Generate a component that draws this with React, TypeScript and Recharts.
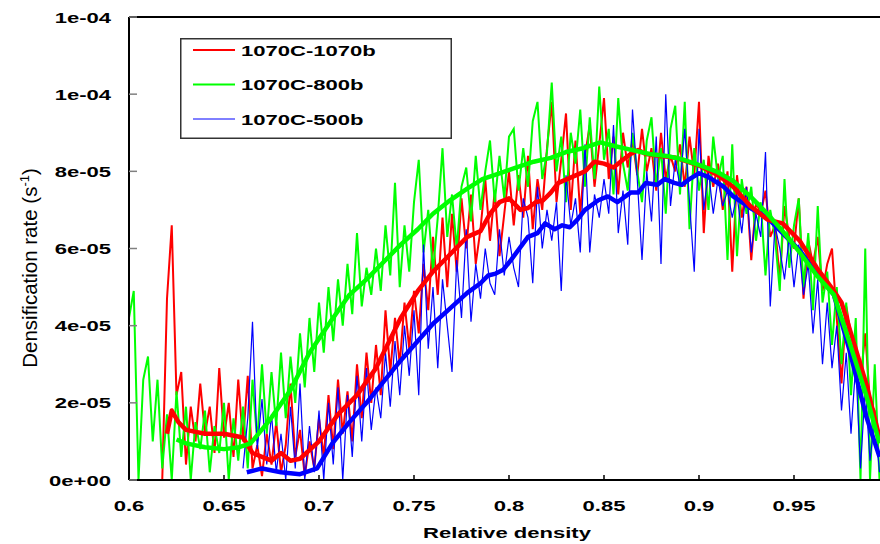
import { LineChart, Line, XAxis, YAxis, ReferenceLine, Legend } from 'recharts';

// x axis: relative density
const X_TICKS = [0.6, 0.65, 0.7, 0.75, 0.8, 0.85, 0.9, 0.95];
const X_TICK_LABELS = ['0.6', '0.65', '0.7', '0.75', '0.8', '0.85', '0.9', '0.95'];

// y axis in units of 1e-5 s^-1 (the top label really reads 1e-04 twice)
const Y_TICKS = [0, 2, 4, 6, 8, 10, 12];
const Y_TICK_LABELS = ['0e+00', '2e-05', '4e-05', '6e-05', '8e-05', '1e-04', '1e-04'];

// raw measurements, one value every 0.0025 of relative density
const STEP = 0.0025;

const RED_START = 0.6175;
const RED_RAW = [
  0, 4.7, 6.6, 2.2, 2.8, 0.4, 1.9, 1.0, 2.5, 1.2,
  1.9, 0.7, 2.9, 1.1, 2.0, 0.6, 2.6, 1.0, 2.7, 0.3,
  0.9, 0.1, 1.2, 0.4, 1.5, 0.2, 0.9, 2.5, 0.6, 1.3,
  0.1, 1.0, 0.3, 1.6, 0.6, 2.2, 0.8, 2.6, 1.2, 2.3,
  1.0, 3.0, 1.6, 3.3, 2.0, 3.5, 2.2, 4.4, 2.8, 4.2,
  3.0, 4.6, 3.4, 4.9, 3.8, 5.6, 4.4, 6.3, 4.8, 6.8,
  5.0, 6.9, 5.4, 7.3, 6.0, 7.4, 5.6, 6.5, 7.8, 6.2,
  7.5, 5.8, 6.9, 8.0, 6.6, 7.9, 6.8, 8.4, 6.5, 7.8,
  7.0, 8.6, 9.8, 7.2, 8.3, 9.5, 7.0, 8.8, 6.9, 8.4,
  9.2, 7.6, 8.7, 9.9, 7.8, 8.9, 7.4, 9.0, 8.1, 8.8,
  7.9, 9.1, 8.0, 8.6, 7.5, 9.0, 7.8, 8.4, 8.0, 8.7,
  7.6, 8.9, 7.9, 9.8, 6.4, 8.4, 7.6, 8.2, 7.0, 8.0,
  5.4, 7.9, 6.8, 7.6, 5.7, 7.2, 6.9, 7.5, 6.3, 6.6,
  5.2, 7.1, 6.3, 6.0, 7.3, 4.7, 6.2, 5.6, 6.3, 4.9,
  5.6, 6.0, 4.2, 2.5, 4.5, 3.8, 3.2, 2.6, 3.8, 2.0,
  1.8, 1.0,
];

const GREEN_START = 0.6;
const GREEN_RAW = [
  4.2, 4.9, 0.0, 2.6, 3.2, 1.0, 2.6, 0.3, 1.7, 0.0,
  2.3, 0.6, 1.9, 0.0, 1.5, 0.8, 1.8, 0.2, 1.4, 0.7,
  2.0, 0.0, 1.6, 0.5, 1.9, 0.3, 2.6, 1.0, 3.0, 1.2,
  2.8, 1.4, 3.3, 1.6, 3.2, 2.0, 3.8, 2.4, 4.2, 2.8,
  4.6, 3.3, 5.0, 3.6, 5.2, 4.0, 5.6, 4.3, 6.4, 4.5,
  5.5, 4.8, 6.0, 4.9, 6.6, 5.3, 7.7, 5.0, 6.6, 5.4,
  7.2, 8.3, 5.9, 7.0, 5.4, 6.8, 8.6, 6.3, 7.4, 6.0,
  7.6, 8.1, 6.7, 8.4, 7.0, 8.0, 8.8, 7.2, 8.4, 7.3,
  8.9, 9.1, 7.5, 8.6, 7.6, 9.3, 9.8, 7.8, 8.5, 10.3,
  8.0, 8.9, 7.2, 9.0, 8.2, 9.6, 7.6, 9.4, 7.8, 10.2,
  8.3, 9.1, 7.4, 9.9, 8.2, 7.5, 9.0, 8.0, 7.2, 8.8,
  9.4, 7.6, 8.6, 6.9, 9.1, 9.7, 7.4, 9.8, 6.5, 8.6,
  7.5, 8.3, 7.0, 8.9, 7.8, 8.4, 5.7, 8.7, 5.8, 7.8,
  6.9, 7.6, 6.2, 7.2, 5.3, 7.0, 6.3, 4.9, 7.8, 5.5,
  6.6, 7.3, 5.0, 6.4, 4.4, 7.1, 4.6, 5.4, 3.5, 5.0,
  3.0, 4.6, 2.2, 4.2, 0.0, 6.0, 0.0, 3.0, 0.0,
];

const BLUE_START = 0.66;
const BLUE_RAW = [
  0.3, 1.6, 4.1, 0.8, 2.1, 0.4, 1.7, 0.2, 1.2, 0.0,
  1.9, 0.3, 2.5, 0.0, 1.4, 0.2, 1.8, 0.0, 2.0, 0.4,
  2.4, 0.0, 2.2, 0.6, 2.7, 1.0, 2.9, 1.3, 2.4, 1.6,
  3.3, 1.9, 3.6, 2.2, 4.0, 2.7, 4.4, 2.2, 6.1, 3.4,
  5.0, 2.9, 5.2, 4.0, 2.8, 5.7, 4.2, 6.5, 4.1, 5.6,
  4.7, 6.0, 5.1, 4.8, 6.5, 5.3, 6.3, 5.5, 5.0, 7.3,
  6.8, 5.1, 7.6, 6.0, 7.0, 6.2, 7.2, 4.9, 7.9, 6.6,
  7.3, 5.9, 8.7, 5.9, 7.4, 6.8, 7.8, 6.9, 9.2, 6.4,
  7.5, 6.1, 9.6, 7.8, 5.7, 8.0, 6.7, 8.9, 5.6, 10.0,
  7.1, 8.3, 7.6, 9.1, 7.2, 5.4, 9.1, 7.0, 8.0, 6.9,
  7.8, 7.1, 7.5, 6.8, 7.4, 6.4, 7.6, 5.9, 6.9, 6.3,
  8.5, 4.5, 6.6, 6.0, 5.2, 6.3, 5.0, 6.1, 4.8, 5.6,
  3.8, 5.2, 3.0, 4.6, 2.9, 4.0, 1.8, 3.3, 1.2, 3.0,
  0.3, 2.4, 0.5, 1.6, 0.2,
];

// smoothed curves, [density, rate]
const RED_SMOOTH: [number, number][] = [
  [0.62, 1.2], [0.6225, 1.8], [0.626, 1.5], [0.63, 1.3], [0.64, 1.2], [0.65, 1.2],
  [0.66, 1.1], [0.665, 0.7], [0.67, 0.6], [0.675, 0.5], [0.68, 0.7], [0.685, 0.5],
  [0.69, 0.55], [0.7, 1.0], [0.71, 1.7], [0.72, 2.2], [0.73, 2.9], [0.743, 4.2],
  [0.752, 4.9], [0.76, 5.4], [0.768, 5.8], [0.778, 6.3], [0.785, 6.45], [0.79, 6.9],
  [0.795, 7.2], [0.8, 7.3], [0.806, 7.0], [0.81, 7.05], [0.814, 7.2], [0.818, 7.25],
  [0.822, 7.45], [0.826, 7.7], [0.833, 7.85], [0.84, 8.0], [0.845, 8.25], [0.85, 8.2],
  [0.855, 8.1], [0.86, 8.3], [0.864, 8.45], [0.868, 8.55], [0.872, 8.45], [0.88, 8.4],
  [0.888, 8.35], [0.9, 8.15], [0.91, 7.9], [0.918, 7.6], [0.927, 7.1], [0.936, 6.75],
  [0.944, 6.65], [0.953, 6.2], [0.962, 5.5], [0.971, 4.9], [0.975, 4.6], [0.98, 3.8],
  [0.988, 2.5], [0.995, 1.1],
];

const GREEN_SMOOTH: [number, number][] = [
  [0.625, 1.05], [0.63, 0.95], [0.64, 0.85], [0.65, 0.8],
  [0.658, 0.85], [0.664, 0.95], [0.674, 1.55], [0.685, 2.33], [0.695, 3.3], [0.706, 4.1],
  [0.716, 4.8], [0.725, 5.2], [0.734, 5.65], [0.743, 6.1], [0.752, 6.5], [0.76, 6.9],
  [0.769, 7.25], [0.778, 7.55], [0.786, 7.8], [0.795, 7.95], [0.804, 8.1], [0.813, 8.25],
  [0.822, 8.35], [0.83, 8.5], [0.839, 8.6], [0.848, 8.75], [0.856, 8.65], [0.865, 8.55],
  [0.874, 8.45], [0.883, 8.4], [0.892, 8.3], [0.901, 8.15], [0.909, 8.0], [0.918, 7.75],
  [0.927, 7.35], [0.936, 6.9], [0.944, 6.45], [0.953, 5.9], [0.962, 5.3], [0.971, 4.8],
  [0.979, 3.6], [0.988, 2.2], [0.995, 0.95],
];

const BLUE_SMOOTH: [number, number][] = [
  [0.662, 0.2], [0.67, 0.3], [0.68, 0.2], [0.69, 0.15], [0.699, 0.3], [0.707, 0.95],
  [0.716, 1.5], [0.725, 2.0], [0.734, 2.55], [0.743, 3.1], [0.752, 3.6], [0.76, 4.05],
  [0.769, 4.45], [0.778, 4.85], [0.785, 5.1], [0.789, 5.3], [0.793, 5.35], [0.797, 5.45],
  [0.801, 5.7], [0.81, 6.3], [0.815, 6.4], [0.819, 6.65], [0.824, 6.5], [0.828, 6.6],
  [0.832, 6.55], [0.836, 6.75], [0.84, 7.0], [0.847, 7.25], [0.852, 7.35], [0.857, 7.2],
  [0.864, 7.45], [0.868, 7.45], [0.872, 7.7], [0.878, 7.65], [0.882, 7.8], [0.887, 7.7],
  [0.891, 7.65], [0.895, 7.8], [0.9, 7.95], [0.905, 7.85], [0.913, 7.6], [0.918, 7.35],
  [0.927, 7.05], [0.936, 6.8], [0.944, 6.4], [0.953, 5.95], [0.962, 5.35], [0.971, 4.8],
  [0.979, 3.4], [0.988, 1.65], [0.995, 0.6],
];

const SERIES = [
  { name: '1070C-1070b', color: '#ff0000', legendWidth: 2 },
  { name: '1070C-800b', color: '#00ff00', legendWidth: 2 },
  { name: '1070C-500b', color: '#0000ff', legendWidth: 1 },
];

const FONT = "'Liberation Sans', Arial, sans-serif";
const STRETCH = 1.47; // the original figure is stretched horizontally

const rawPoints = (start: number, values: number[]) =>
  values.map((v, i) => ({ x: +(start + i * STEP).toFixed(4), y: v }));
const pairPoints = (pairs: [number, number][]) => pairs.map(([x, y]) => ({ x, y }));

function XTick({ x, y, payload }: any) {
  const label = X_TICK_LABELS[X_TICKS.indexOf(payload.value)];
  return (
    <g>
      <line x1={x} y1={y} x2={x} y2={y - 5} stroke="#000" strokeWidth={1.5} />
      <text
        transform={`translate(${x},${y + 31}) scale(${STRETCH},1)`}
        textAnchor="middle"
        fontFamily={FONT}
        fontWeight="bold"
        fontSize={15}
        fill="#000"
      >
        {label}
      </text>
    </g>
  );
}

function YTick({ x, y, payload }: any) {
  const label = Y_TICK_LABELS[Y_TICKS.indexOf(payload.value)];
  return (
    <g>
      <line x1={x} y1={y} x2={x + 8} y2={y} stroke="#808080" strokeWidth={1.5} />
      <text
        transform={`translate(${x - 18},${y + 5.5}) scale(${STRETCH},1)`}
        textAnchor="end"
        fontFamily={FONT}
        fontWeight="bold"
        fontSize={15}
        fill="#000"
      >
        {label}
      </text>
    </g>
  );
}

function XTitle() {
  return (
    <text
      transform={`translate(507,538) scale(${STRETCH},1)`}
      textAnchor="middle"
      fontFamily={FONT}
      fontWeight="bold"
      fontSize={15}
      fill="#000"
    >
      Relative density
    </text>
  );
}

function YTitle() {
  return (
    <text
      transform="translate(37,268) rotate(-90)"
      textAnchor="middle"
      fontFamily={FONT}
      fontSize={20.5}
      fill="#000"
    >
      Densification rate (s
      <tspan dy={-8} fontSize={13}>
        -1
      </tspan>
      <tspan dy={8}>)</tspan>
    </text>
  );
}

function LegendBox() {
  return (
    <svg width={272} height={101} style={{ display: 'block' }}>
      <rect x={0.75} y={0.75} width={270.5} height={99.5} fill="#fff" stroke="#333" strokeWidth={1.5} />
      {SERIES.map((s, i) => {
        const cy = 12 + i * 34.5;
        return (
          <g key={s.name}>
            <line x1={13} x2={55} y1={cy} y2={cy} stroke={s.color} strokeWidth={s.legendWidth} />
            <text
              transform={`translate(61,${cy + 5.5}) scale(${STRETCH},1)`}
              fontFamily={FONT}
              fontWeight="bold"
              fontSize={15}
              fill="#000"
            >
              {s.name}
            </text>
          </g>
        );
      })}
    </svg>
  );
}

export default function App() {
  return (
    <div
      style={{
        position: 'fixed',
        left: 0,
        top: 0,
        width: 880,
        height: 544,
        overflow: 'hidden',
        background: '#fff',
      }}
    >
      <LineChart width={900} height={544} margin={{ top: 17, right: 11, bottom: 0, left: 0 }}>
        <XAxis
          type="number"
          dataKey="x"
          domain={[0.6, 1.0]}
          ticks={X_TICKS}
          height={64}
          axisLine={{ stroke: '#000', strokeWidth: 2 }}
          tickLine={false}
          tickSize={0}
          tickMargin={0}
          tick={<XTick />}
          label={<XTitle />}
        />
        <YAxis
          type="number"
          dataKey="y"
          domain={[0, 12]}
          ticks={Y_TICKS}
          width={129}
          axisLine={{ stroke: '#000', strokeWidth: 2 }}
          tickLine={false}
          tickSize={0}
          tickMargin={0}
          tick={<YTick />}
          label={<YTitle />}
        />
        <ReferenceLine y={12} stroke="#000" strokeWidth={2} />
        <Legend
          layout="horizontal"
          align="center"
          verticalAlign="middle"
          wrapperStyle={{ left: 180, top: 38, width: 272, height: 101 }}
          content={<LegendBox />}
        />
        <Line data={rawPoints(RED_START, RED_RAW)} dataKey="y" name="1070C-1070b" stroke="#ff0000" strokeWidth={2} dot={false} isAnimationActive={false} legendType="none" />
        <Line data={rawPoints(GREEN_START, GREEN_RAW)} dataKey="y" name="1070C-800b" stroke="#00ff00" strokeWidth={2} dot={false} isAnimationActive={false} legendType="none" />
        <Line data={rawPoints(BLUE_START, BLUE_RAW)} dataKey="y" name="1070C-500b" stroke="#0000ff" strokeWidth={1.2} dot={false} isAnimationActive={false} legendType="none" />
        <Line data={pairPoints(BLUE_SMOOTH)} dataKey="y" name="blue smooth" stroke="#0000ff" strokeWidth={4.5} strokeLinejoin="round" dot={false} isAnimationActive={false} legendType="none" />
        <Line data={pairPoints(RED_SMOOTH)} dataKey="y" name="red smooth" stroke="#ff0000" strokeWidth={4.5} strokeLinejoin="round" dot={false} isAnimationActive={false} legendType="none" />
        <Line data={pairPoints(GREEN_SMOOTH)} dataKey="y" name="green smooth" stroke="#00ff00" strokeWidth={4.5} strokeLinejoin="round" dot={false} isAnimationActive={false} legendType="none" />
      </LineChart>
    </div>
  );
}
